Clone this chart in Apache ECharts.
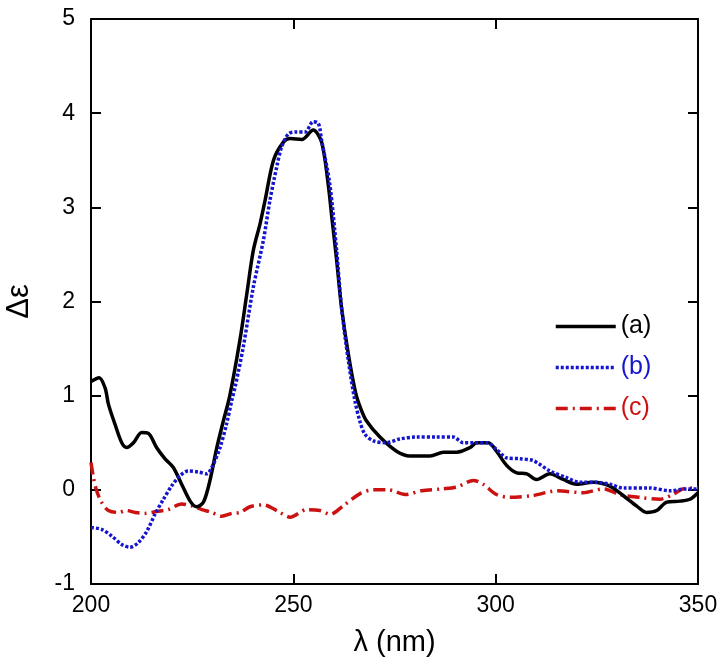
<!DOCTYPE html>
<html><head><meta charset="utf-8">
<script src="https://cdn.jsdelivr.net/npm/echarts@6/dist/echarts.min.js"></script>
<style>html,body{margin:0;padding:0;background:#fff}#c{width:724px;height:672px}</style>
</head><body><div id="c"></div>
<script>
const xTicks = [200, 250, 300, 350];
const yTicks = [-1, 0, 1, 2, 3, 4, 5];
const seriesNames = ['(a)', '(b)', '(c)'];

const lambdaA = [200,202,203.5,204.3,205.9,207.6,208.8,210.5,212.5,214.2,216.2,218.3,220.3,222.4,224.5,226.1,227.8,229.4,231.1,232.7,234.3,236.8,238.5,240.1,241.8,243,245.1,247.5,249.2,252.1,254.9,257,258.6,259.5,260.7,261.9,263.6,265.4,266.6,268.1,271.4,275.5,278.8,283.8,287.1,290.4,293.7,295.3,298.2,300.2,302.7,305.2,307.7,310.1,313.4,316.7,320,324.1,328.2,331.5,334.8,337.3,339.8,342.3,345.5,348,350];
const epsA = [1.15,1.19,1.08,0.91,0.70,0.50,0.45,0.50,0.61,0.60,0.45,0.33,0.24,0.06,-0.12,-0.18,-0.13,0.10,0.45,0.73,1.00,1.59,2.08,2.54,2.83,3.07,3.50,3.69,3.73,3.72,3.82,3.69,3.25,2.90,2.44,1.94,1.44,1.03,0.87,0.73,0.56,0.41,0.36,0.36,0.40,0.40,0.45,0.50,0.50,0.41,0.26,0.18,0.17,0.11,0.17,0.11,0.06,0.08,0.04,-0.06,-0.17,-0.24,-0.22,-0.13,-0.12,-0.10,-0.03];

const lambdaB = [200,202.6,205.1,207.6,209.6,211.7,213.8,215.8,217.9,219.9,222,224,226.5,228.6,230.2,231.9,233.5,234.8,235.6,237.6,240.1,242.6,244.2,245.9,247.1,248.8,250.8,252.9,254.9,256.2,257,259,260.7,261.9,263.6,265.2,266.5,267.7,269.8,273,276.3,280.4,285.4,289.5,292,294.5,297.8,300.2,302.7,306,309.3,313.4,317.5,320.8,324.9,328.2,331.5,338.1,343.1,347.2,350];
const epsB = [-0.40,-0.42,-0.49,-0.58,-0.61,-0.56,-0.44,-0.26,-0.10,0.04,0.15,0.20,0.19,0.17,0.27,0.45,0.70,0.95,1.09,1.51,2.15,2.65,3.07,3.43,3.64,3.78,3.80,3.80,3.91,3.89,3.71,3.25,2.54,1.94,1.37,0.95,0.72,0.59,0.52,0.50,0.54,0.56,0.56,0.56,0.50,0.50,0.50,0.43,0.34,0.33,0.31,0.20,0.13,0.08,0.08,0.06,0.02,0.02,-0.01,0.01,0.01];

const lambdaC = [200,200.6,201.4,202.6,204.3,206.7,208.8,210.9,213.3,216.2,219.1,222.4,224.9,227.4,229.8,232.3,234.8,236.8,239.3,242.6,246.7,249.2,253.3,256.6,259.1,262.3,266.5,269.8,273.5,277.6,281.7,286.7,290.4,294.5,296.9,300.2,303.5,309.3,315.1,321.6,326.6,330.7,335.6,340.5,343.8,346.3,350];
const epsC = [0.29,0.13,-0.01,-0.13,-0.22,-0.24,-0.22,-0.24,-0.25,-0.23,-0.21,-0.15,-0.17,-0.21,-0.24,-0.28,-0.25,-0.24,-0.18,-0.16,-0.24,-0.29,-0.21,-0.22,-0.26,-0.17,-0.04,0.00,0.00,-0.05,-0.01,0.01,0.03,0.10,0.06,-0.05,-0.08,-0.06,-0.01,-0.03,0.01,-0.05,-0.08,-0.10,-0.05,0.01,0.02];

const colors = ['#000000', '#1515d0', '#cc1111'];
const pair = (xs, ys) => xs.map((x, i) => [x, ys[i]]);
const FONT = 'Liberation Sans, Arial, sans-serif';

const chart = echarts.init(document.getElementById('c'), null, {renderer: 'canvas'});
const axisLineStyle = {show: true, onZero: false, lineStyle: {color: '#000', width: 2}};
const tick = {show: true, inside: true, length: 10, lineStyle: {color: '#000', width: 2}};
chart.setOption({
  animation: false,
  backgroundColor: '#fff',
  grid: {left: 91, right: 26, top: 19, bottom: 88, containLabel: false, outerBoundsMode: 'none'},
  legend: {
    orient: 'vertical', left: 549, top: 309,
    itemWidth: 60, itemHeight: 24, itemGap: 16,
    itemStyle: {opacity: 0},
    lineStyle: {width: 3.5},
    textStyle: {fontFamily: FONT, fontSize: 25},
    data: seriesNames.map((n, i) => ({name: n, textStyle: {color: colors[i]}}))
  },
  xAxis: [{
    type: 'value', min: xTicks[0], max: xTicks[xTicks.length - 1], interval: 50,
    name: 'λ (nm)', nameLocation: 'middle', nameGap: 44,
    nameTextStyle: {fontFamily: FONT, fontSize: 29, color: '#000'},
    axisLine: axisLineStyle, axisTick: tick, splitLine: {show: false},
    axisLabel: {fontFamily: FONT, fontSize: 23, color: '#000', margin: 10}
  }, {
    type: 'value', position: 'top', min: xTicks[0], max: xTicks[xTicks.length - 1], interval: 50,
    axisLine: axisLineStyle, axisTick: tick, splitLine: {show: false}, axisLabel: {show: false}
  }],
  yAxis: [{
    type: 'value', min: yTicks[0], max: yTicks[yTicks.length - 1], interval: 1,
    name: 'Δε', nameLocation: 'middle', nameGap: 56, nameRotate: 90,
    nameTextStyle: {fontFamily: FONT, fontSize: 31, color: '#000'},
    axisLine: axisLineStyle, axisTick: tick, splitLine: {show: false},
    axisLabel: {fontFamily: FONT, fontSize: 23, color: '#000', margin: 16}
  }, {
    type: 'value', position: 'right', min: yTicks[0], max: yTicks[yTicks.length - 1], interval: 1,
    axisLine: axisLineStyle, axisTick: tick, splitLine: {show: false}, axisLabel: {show: false}
  }],
  series: [
    {name: seriesNames[0], type: 'line', data: pair(lambdaA, epsA), symbol: 'none', smooth: 0.3,
     color: colors[0], lineStyle: {color: colors[0], width: 3.5}, z: 3},
    {name: seriesNames[1], type: 'line', data: pair(lambdaB, epsB), symbol: 'none', smooth: 0.3,
     color: colors[1], lineStyle: {color: colors[1], width: 3.5, type: [3, 2]}, z: 4},
    {name: seriesNames[2], type: 'line', data: pair(lambdaC, epsC), symbol: 'none', smooth: 0.3,
     color: colors[2], lineStyle: {color: colors[2], width: 3.5, type: [12, 5, 2, 5]}, z: 2}
  ]
});
</script></body></html>
